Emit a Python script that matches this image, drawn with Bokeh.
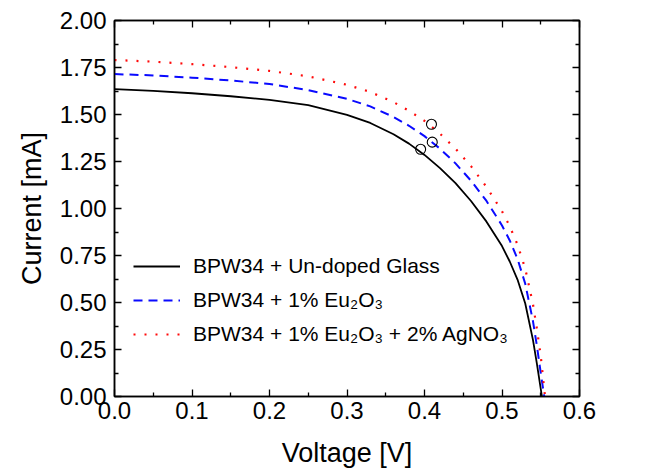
from bokeh.plotting import figure
from bokeh.models import (LinearAxis, FixedTicker, PrintfTickFormatter,
                          Legend, LegendItem, Range1d)
from bokeh.embed import file_html
from bokeh.resources import INLINE

# ---- data ----
v_black = [0.00, 0.05, 0.10, 0.15, 0.20, 0.25, 0.30, 0.33, 0.36, 0.38, 0.40, 0.42,
           0.44, 0.46, 0.48, 0.50, 0.51, 0.52, 0.53, 0.54, 0.545, 0.55, 0.5515]
i_black = [1.635, 1.626, 1.613, 1.597, 1.578, 1.550, 1.498, 1.455, 1.395, 1.345, 1.285, 1.215,
           1.135, 1.040, 0.930, 0.800, 0.718, 0.622, 0.495, 0.300, 0.175, 0.040, 0.000]

v_blue = [0.00, 0.05, 0.10, 0.15, 0.20, 0.25, 0.30, 0.33, 0.36, 0.38, 0.40, 0.42,
          0.44, 0.46, 0.48, 0.50, 0.51, 0.52, 0.53, 0.54, 0.545, 0.55, 0.5545]
i_blue = [1.715, 1.708, 1.696, 1.681, 1.662, 1.630, 1.583, 1.543, 1.487, 1.440, 1.385, 1.318,
          1.240, 1.148, 1.040, 0.910, 0.830, 0.732, 0.600, 0.400, 0.270, 0.125, 0.000]

v_red = [0.00, 0.05, 0.10, 0.15, 0.20, 0.25, 0.30, 0.33, 0.36, 0.38, 0.40, 0.42,
         0.44, 0.46, 0.48, 0.50, 0.51, 0.52, 0.53, 0.54, 0.545, 0.55, 0.5555]
i_red = [1.790, 1.781, 1.768, 1.752, 1.732, 1.703, 1.658, 1.620, 1.566, 1.520, 1.466, 1.398,
         1.318, 1.225, 1.115, 0.985, 0.905, 0.808, 0.680, 0.490, 0.360, 0.215, 0.000]

# maximum power points (open circles)
mpp_v = [0.395, 0.410, 0.409]
mpp_i = [1.315, 1.353, 1.448]

labels = ["BPW34 + Un-doped Glass",
          "BPW34 + 1% Eu\u2082O\u2083",
          "BPW34 + 1% Eu\u2082O\u2083 + 2% AgNO\u2083"]

x_ticks = [0.0, 0.1, 0.2, 0.3, 0.4, 0.5, 0.6]
x_minor = [0.05, 0.15, 0.25, 0.35, 0.45, 0.55]
y_ticks = [0.0, 0.25, 0.5, 0.75, 1.0, 1.25, 1.5, 1.75, 2.0]
y_minor = [0.125, 0.375, 0.625, 0.875, 1.125, 1.375, 1.625, 1.875]

FONT = "Liberation Sans"

p = figure(width=646, height=470, output_backend="svg", toolbar_location=None,
           x_range=Range1d(0, 0.6), y_range=Range1d(0, 2.0),
           min_border_left=114, min_border_right=67, min_border_top=20,
           min_border_bottom=73, x_axis_label="Voltage [V]", y_axis_label="Current [mA]")
p.grid.visible = False
p.outline_line_color = "black"
p.outline_line_width = 1.5
p.background_fill_color = "white"
p.border_fill_color = "white"

r1 = p.line(v_black, i_black, line_color="black", line_width=1.8)
r2 = p.line(v_blue, i_blue, line_color="#0a0aff", line_width=2, line_dash="9 6")
r3 = p.line(v_red, i_red, line_color="#ff0a0a", line_width=2.2, line_dash="2 9")
p.scatter(mpp_v, mpp_i, size=10, fill_color=None, line_color="black", line_width=1.1)


def style(ax, ticks, minor, fmt, show_labels):
    ax.ticker = FixedTicker(ticks=ticks, minor_ticks=minor)
    ax.formatter = PrintfTickFormatter(format=fmt)
    ax.major_tick_in = 7
    ax.major_tick_out = 0
    ax.minor_tick_in = 4
    ax.minor_tick_out = 0
    ax.axis_line_width = 1.5
    ax.major_tick_line_width = 1.3
    ax.minor_tick_line_width = 1.3
    ax.major_label_text_font = FONT
    ax.major_label_text_color = "black"
    ax.axis_label_text_font = FONT
    ax.axis_label_text_color = "black"
    ax.axis_label_text_font_style = "normal"
    ax.axis_label_text_font_size = "27px"
    if show_labels:
        ax.major_label_text_font_size = "24px"
    else:
        ax.major_label_overrides = {t: "" for t in ticks}
        ax.major_label_text_font_size = "1px"
        ax.major_label_standoff = 0


style(p.xaxis[0], x_ticks, x_minor, "%.1f", True)
style(p.yaxis[0], y_ticks, y_minor, "%.2f", True)
p.xaxis[0].major_label_standoff = 5
p.xaxis[0].axis_label_standoff = 16
p.yaxis[0].major_label_standoff = 8
p.yaxis[0].axis_label_standoff = 10

top = LinearAxis()
style(top, x_ticks, x_minor, "%.1f", False)
p.add_layout(top, "above")
right = LinearAxis()
style(right, y_ticks, y_minor, "%.2f", False)
p.add_layout(right, "right")

legend = Legend(items=[LegendItem(label=labels[0], renderers=[r1]),
                       LegendItem(label=labels[1], renderers=[r2]),
                       LegendItem(label=labels[2], renderers=[r3])],
                location=(19, 48), border_line_color=None, background_fill_alpha=0,
                padding=0, margin=0, spacing=6, glyph_width=47, glyph_height=28,
                label_height=28, label_standoff=13, label_text_font=FONT,
                label_text_color="black", label_text_font_size="21px")
p.add_layout(legend)

open("out.html", "w").write(file_html(p, INLINE))
